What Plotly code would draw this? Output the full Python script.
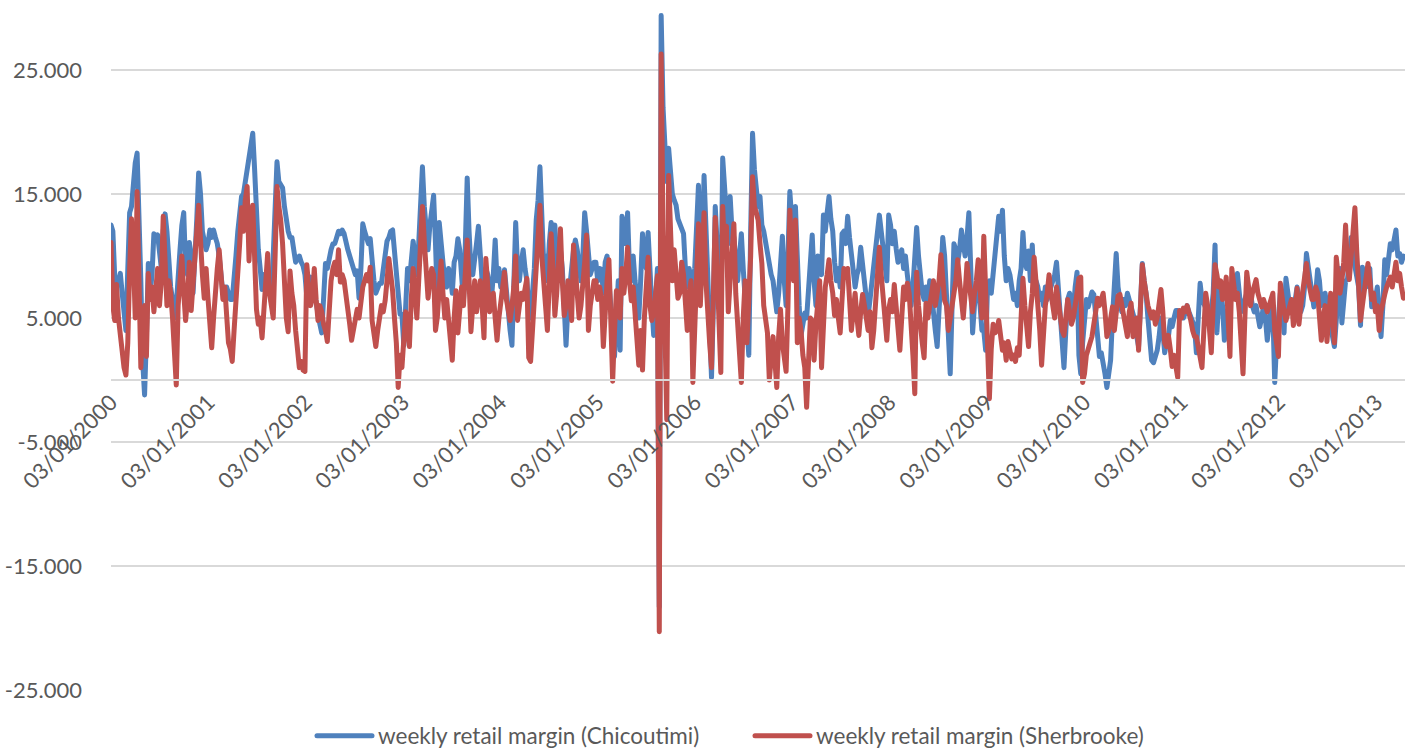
import pandas as pd
import plotly.graph_objects as go

# Weekly retail margins (cents/litre), one list of 52 weeks per year, first week 2000-01-03
chicoutimi_2000 = [12.5, 12.0, 8.3, 7.5, 8.0, 8.6, 7.0, 5.5, 4.0, 8.9, 13.5, 14.0, 16.0,
                   17.5, 18.3, 14.0, 8.0, 1.5, -1.2, 3.5, 9.4, 7.0, 8.5, 11.8, 11.5, 11.7,
                   10.0, 9.0, 12.0, 13.4, 12.0, 9.0, 7.5, 6.5, 5.0, 6.0, 8.9, 10.5, 12.5,
                   13.5, 9.0, 8.5, 11.1, 10.0, 7.0, 9.5, 13.0, 16.7, 15.0, 12.0, 11.3, 10.5]
chicoutimi_2001 = [11.0, 12.1, 11.5, 12.1, 11.5, 11.0, 10.0, 8.0, 7.0, 6.8, 7.5, 7.0, 6.5,
                   6.5, 8.0, 10.0, 12.0, 13.5, 14.8, 15.0, 16.0, 17.0, 17.5, 18.5, 19.9, 17.0,
                   12.3, 10.5, 9.0, 7.3, 8.5, 8.0, 7.0, 7.5, 6.3, 11.0, 15.0, 17.6, 16.0,
                   15.8, 15.5, 14.0, 12.5, 12.0, 11.5, 11.5, 10.5, 9.5, 9.8, 10.0, 9.5, 9.2]
chicoutimi_2002 = [8.5, 6.7, 7.5, 8.3, 8.0, 7.0, 6.0, 5.0, 4.5, 3.8, 7.0, 9.4, 9.0,
                   10.0, 10.5, 11.0, 11.0, 11.5, 12.0, 11.8, 12.1, 11.8, 11.0, 10.5, 10.0, 9.5,
                   9.0, 8.5, 8.8, 6.6, 9.0, 12.6, 12.0, 11.5, 11.0, 11.4, 9.0, 8.0, 7.0,
                   7.5, 7.8, 7.8, 9.0, 10.0, 11.2, 11.5, 12.0, 12.1, 10.0, 8.0, 7.0, 5.3]
chicoutimi_2003 = [5.3, 2.8, 6.0, 9.0, 8.0, 10.0, 11.2, 10.0, 8.5, 11.0, 15.0, 17.2, 14.0,
                   12.0, 10.5, 12.5, 14.0, 14.9, 11.0, 6.3, 12.7, 11.5, 9.5, 8.0, 7.5, 9.0,
                   8.5, 7.0, 9.5, 10.0, 11.4, 10.5, 8.0, 6.3, 11.0, 16.3, 12.0, 9.0, 8.5,
                   9.5, 11.0, 12.4, 10.0, 8.0, 7.5, 9.0, 8.5, 7.0, 6.5, 8.5, 11.3, 8.0]
chicoutimi_2004 = [9.0, 7.5, 8.0, 8.9, 7.0, 5.5, 4.0, 2.8, 7.0, 12.7, 9.0, 8.0, 9.5,
                   10.5, 9.0, 8.0, 6.0, 5.0, 7.0, 9.0, 12.9, 14.5, 17.2, 12.0, 9.5, 10.0,
                   8.0, 11.0, 12.7, 12.0, 12.5, 9.5, 8.0, 10.5, 9.0, 6.0, 2.8, 6.0, 8.0,
                   9.0, 10.5, 11.3, 10.5, 9.0, 8.0, 10.0, 13.5, 12.0, 9.5, 8.5, 9.0, 9.5]
chicoutimi_2005 = [9.5, 8.0, 9.0, 8.9, 7.0, 9.5, 10.0, 8.0, 6.5, 5.0, 1.9, 5.0, 8.0,
                   2.4, 13.2, 12.5, 11.0, 13.5, 9.0, 8.0, 10.0, 8.0, 6.5, 5.0, 8.0, 11.8,
                   10.0, 9.0, 11.9, 8.0, 6.0, 3.6, 6.5, 9.0, -18.3, 29.4, 22.0, 17.5, 16.0,
                   18.7, 16.5, 15.0, 14.5, 14.1, 13.0, 12.5, 12.1, 11.8, 9.0, 7.5, 9.0, 8.0]
chicoutimi_2006 = [7.5, 9.0, 12.0, 15.7, 11.0, 9.5, 16.5, 12.0, 9.0, 5.0, 0.2, 6.0, 14.0,
                   11.0, 8.0, 6.0, 17.9, 15.0, 12.5, 11.0, 14.8, 12.0, 11.5, 9.0, 8.0, 10.0,
                   11.8, 9.0, 6.5, 4.0, 2.0, 12.0, 19.9, 17.0, 15.5, 14.0, 14.8, 12.5, 12.0,
                   11.0, 10.6, 9.0, 8.5, 8.0, 6.5, 5.5, 7.0, 9.0, 11.6, 8.0, 6.0, 10.0]
chicoutimi_2007 = [15.2, 13.0, 11.0, 14.0, 9.0, 6.0, 3.6, 4.5, 5.4, 5.0, 7.0, 9.5, 11.7,
                   8.0, 6.0, 10.0, 9.0, 8.5, 13.3, 12.0, 13.5, 14.8, 13.0, 12.0, 9.5, 8.0,
                   9.0, 7.5, 11.8, 12.0, 11.0, 13.2, 11.5, 10.0, 8.0, 7.5, 8.5, 9.0, 10.7,
                   9.5, 8.0, 7.0, 5.2, 6.5, 8.0, 9.0, 11.0, 12.5, 13.3, 12.0, 10.5, 9.7]
chicoutimi_2008 = [8.0, 13.3, 12.5, 11.0, 12.0, 10.6, 9.5, 10.0, 10.5, 9.0, 10.0, 8.5, 7.0,
                   6.0, 7.5, 9.5, 12.3, 10.0, 8.0, 7.0, 6.5, 7.5, 6.0, 8.0, 7.0, 5.0,
                   4.0, 2.7, 6.0, 9.0, 11.5, 10.0, 7.0, 3.0, 0.5, 6.0, 11.0, 10.5, 9.5,
                   10.5, 12.1, 11.0, 10.0, 11.5, 13.5, 9.0, 3.8, 6.0, 7.0, 8.5, 6.0, 4.0]
chicoutimi_2009 = [4.0, 2.4, 7.5, 8.0, 7.0, 8.5, 9.4, 11.0, 13.2, 12.0, 13.7, 10.0, 8.0,
                   9.0, 8.5, 7.5, 6.5, 7.0, 6.0, 8.0, 9.0, 11.9, 9.5, 9.0, 10.4, 8.0,
                   10.9, 7.5, 8.0, 7.5, 6.5, 7.0, 6.0, 7.5, 6.5, 7.0, 7.5, 8.0, 8.5,
                   9.5, 7.0, 5.0, 2.5, 1.0, 4.0, 6.5, 7.0, 6.0, 5.5, 7.5, 8.7, 2.0]
chicoutimi_2010 = [0.5, 3.0, 5.0, 6.5, 5.9, 6.5, 7.1, 6.9, 5.0, 3.5, 1.9, 2.2, 1.5,
                   0.5, -0.6, 0.8, 1.6, 5.0, 8.5, 10.2, 7.5, 6.0, 5.5, 6.5, 6.0, 7.0,
                   6.5, 6.0, 5.5, 4.8, 3.5, 2.7, 6.0, 9.4, 8.0, 7.0, 5.0, 3.0, 1.6,
                   1.4, 2.0, 2.4, 3.5, 5.0, 4.0, 2.2, 3.0, 3.5, 4.8, 4.3, 5.0, 5.6]
chicoutimi_2011 = [5.6, 5.0, 5.5, 5.0, 5.4, 6.0, 5.5, 5.0, 4.8, 4.3, 2.2, 5.0, 7.8,
                   6.5, 6.0, 5.8, 5.4, 4.5, 5.5, 7.0, 10.9, 3.8, 6.5, 7.5, 6.0, 3.2,
                   5.0, 6.0, 6.5, 7.5, 8.0, 7.5, 8.6, 7.0, 5.5, 6.0, 6.5, 7.0, 6.5,
                   7.0, 6.0, 5.5, 6.0, 5.0, 4.3, 5.0, 6.0, 5.0, 3.2, 4.5, 6.0, 5.5]
chicoutimi_2012 = [-0.2, 3.0, 6.0, 7.0, 6.0, 3.8, 8.2, 7.0, 6.0, 5.5, 6.0, 6.5, 7.5,
                   6.5, 5.5, 6.0, 7.5, 10.2, 9.0, 7.9, 7.0, 5.9, 7.0, 8.9, 8.0, 6.0,
                   6.5, 7.0, 6.0, 5.0, 4.5, 3.5, 2.7, 5.0, 7.0, 9.0, 4.6, 6.0, 8.0,
                   8.1, 9.5, 11.5, 10.0, 9.0, 8.0, 7.5, 4.4, 9.1, 8.0, 7.5, 8.0, 9.0]
chicoutimi_2013 = [5.9, 7.0, 6.5, 7.5, 5.5, 3.5, 6.0, 9.7, 8.5, 9.5, 11.0, 10.5, 11.5,
                   12.1, 10.0, 10.2, 9.5, 10.0]

sherbrooke_2000 = [11.1, 6.0, 4.8, 7.7, 5.0, 3.5, 2.0, 1.0, 0.4, 3.0, 9.0, 13.0, 10.0,
                   5.0, 15.2, 8.0, 1.0, 4.5, 6.0, 1.9, 8.6, 6.5, 7.5, 5.5, 7.0, 9.0,
                   6.0, 8.0, 13.2, 9.5, 6.0, 8.0, 7.0, 5.0, 2.0, -0.4, 6.0, 9.0, 10.0,
                   7.0, 4.8, 6.5, 9.5, 5.6, 7.5, 9.0, 12.0, 14.1, 10.0, 8.5, 6.6, 9.0]
sherbrooke_2001 = [6.6, 4.0, 2.6, 5.0, 8.0, 9.0, 10.5, 8.0, 6.5, 7.5, 5.0, 3.0, 2.5,
                   1.5, 4.0, 7.0, 9.2, 11.0, 13.9, 12.0, 14.5, 15.6, 9.6, 13.0, 14.1, 8.0,
                   5.7, 4.5, 5.0, 3.4, 6.0, 8.5, 10.2, 7.0, 6.0, 5.0, 10.0, 15.6, 14.0,
                   12.9, 11.0, 7.5, 5.0, 3.9, 8.8, 7.0, 6.0, 4.0, 2.5, 1.0, 1.5, 0.8]
sherbrooke_2002 = [0.7, 9.3, 7.5, 6.0, 6.6, 9.0, 6.5, 4.8, 6.0, 5.5, 4.5, 4.0, 3.1,
                   6.0, 8.0, 9.0, 9.5, 8.5, 10.5, 7.9, 8.5, 8.0, 7.0, 5.5, 4.5, 3.2,
                   4.0, 5.0, 5.7, 5.0, 6.5, 7.5, 8.0, 8.5, 8.0, 9.1, 4.8, 3.5, 2.7,
                   4.0, 5.0, 6.0, 5.5, 6.4, 8.0, 9.8, 8.5, 7.2, 5.0, 3.0, -0.6, 2.0]
sherbrooke_2003 = [1.0, 3.0, 5.5, 4.0, 2.7, 6.5, 9.0, 7.0, 5.0, 8.0, 11.0, 14.0, 11.2,
                   9.0, 6.6, 8.0, 9.0, 8.5, 4.0, 5.1, 8.0, 9.6, 7.0, 5.0, 6.5, 5.0,
                   3.5, 1.6, 5.0, 7.2, 3.8, 6.0, 7.5, 6.0, 8.5, 11.3, 8.0, 3.9, 6.0,
                   8.0, 5.5, 6.5, 8.0, 6.0, 3.4, 9.8, 7.0, 5.5, 6.5, 7.0, 5.0, 3.2]
sherbrooke_2004 = [5.0, 6.5, 7.5, 8.7, 6.5, 5.5, 4.8, 6.0, 7.5, 10.0, 4.8, 6.0, 7.0,
                   6.5, 7.5, 8.2, 1.8, 1.5, 4.0, 7.0, 9.9, 12.0, 14.1, 10.0, 7.0, 6.0,
                   4.0, 8.0, 11.8, 9.0, 5.2, 7.0, 9.0, 12.2, 8.0, 5.2, 6.0, 8.0, 6.5,
                   4.8, 10.9, 8.5, 7.0, 5.0, 6.0, 7.5, 9.5, 11.7, 4.0, 6.0, 7.0, 8.0]
sherbrooke_2005 = [8.0, 6.5, 7.5, 6.6, 2.7, 6.0, 8.0, 9.7, 5.0, -0.1, 4.0, 7.2, 6.0,
                   5.0, 9.0, 7.0, 8.5, 10.7, 8.0, 6.4, 7.5, 4.8, 3.0, 1.2, 4.0, 0.8,
                   5.0, 7.0, 9.9, 6.0, 4.8, 5.5, 7.0, 8.4, -20.3, 26.3, 12.0, 5.0, -3.2,
                   16.5, 12.0, 8.0, 10.5, 9.0, 6.6, 7.0, 9.5, 8.5, 6.0, 4.0, 7.0, 8.0]
sherbrooke_2006 = [-0.2, 5.0, 9.0, 12.6, 6.0, 9.0, 13.5, 8.0, 4.5, 3.0, 1.0, 7.0, 13.1,
                   9.0, 4.5, 0.6, 14.0, 10.0, 12.4, 5.5, 8.0, 10.0, 12.6, 7.0, 4.0, 2.0,
                   -0.2, 5.0, 8.0, 3.0, 6.0, 10.0, 16.4, 14.0, 13.5, 12.9, 11.0, 9.4, 6.0,
                   5.0, 3.8, 0.0, 2.0, 3.5, 1.5, -0.6, 3.5, 5.7, 3.0, 1.5, 0.7, 6.0]
sherbrooke_2007 = [13.7, 10.0, 8.0, 12.9, 3.0, 5.0, 4.0, 2.0, 1.0, -2.2, 2.5, 5.0, 4.8,
                   1.6, 4.5, 6.0, 8.0, 1.0, 5.0, 7.5, 8.5, 9.7, 8.0, 7.0, 5.2, 6.5,
                   5.0, 3.8, 6.5, 9.0, 8.5, 9.0, 6.5, 4.0, 5.5, 7.0, 5.0, 3.6, 5.5,
                   6.9, 6.0, 5.0, 4.0, 5.5, 2.6, 4.0, 6.5, 8.0, 10.7, 8.5, 6.2, 5.0]
sherbrooke_2008 = [3.2, 5.7, 6.5, 5.5, 7.7, 6.0, 4.0, 2.4, 5.0, 7.5, 6.5, 7.8, 7.0,
                   5.0, 2.0, -1.1, 8.7, 6.0, 4.0, 3.0, 1.8, 6.2, 5.0, 6.5, 7.0, 8.0,
                   6.0, 7.0, 8.0, 10.1, 8.0, 6.4, 6.0, 4.0, 5.0, 6.5, 7.0, 8.0, 9.7,
                   8.0, 6.0, 5.0, 7.0, 9.4, 8.0, 6.5, 5.5, 7.0, 8.0, 9.7, 7.0, 5.0]
sherbrooke_2009 = [11.6, 7.0, 2.0, -1.5, 2.5, 4.5, 3.8, 4.0, 4.8, 3.5, 2.4, 3.0, 1.6,
                   3.1, 2.5, 1.7, 2.0, 1.5, 2.6, 2.0, 5.0, 8.2, 6.0, 4.5, 2.7, 5.5,
                   7.0, 9.9, 8.0, 6.5, 4.0, 1.2, 4.0, 6.0, 7.0, 8.5, 7.0, 6.0, 5.0,
                   7.5, 6.0, 5.0, 4.0, 3.6, 5.0, 6.5, 5.5, 4.5, 5.0, 6.5, 7.0, 8.2]
sherbrooke_2010 = [8.3, -0.2, 0.5, 2.0, 2.7, 3.0, 3.5, 5.0, 5.5, 6.6, 6.0, 6.5, 7.0,
                   5.5, 3.5, 4.0, 5.4, 5.9, 4.0, 5.5, 6.8, 6.9, 6.0, 5.0, 4.5, 3.5,
                   5.5, 6.2, 3.5, 4.5, 5.0, 2.4, 6.0, 9.3, 8.0, 6.5, 6.0, 5.5, 5.0,
                   5.5, 4.5, 5.0, 6.0, 7.3, 5.5, 3.0, 2.7, 3.6, 2.5, 1.1, 2.0, 1.0]
sherbrooke_2011 = [0.2, 5.6, 5.0, 5.8, 5.5, 6.0, 5.5, 4.8, 4.0, 3.5, 3.5, 2.5, 2.0,
                   1.0, 4.0, 7.0, 6.0, 4.0, 2.2, 6.0, 9.3, 8.5, 7.5, 8.0, 6.5, 7.0,
                   8.3, 5.0, 1.9, 9.0, 8.0, 6.5, 7.0, 5.5, 3.0, 0.5, 5.0, 8.7, 7.5,
                   6.0, 7.0, 7.5, 8.1, 7.0, 6.5, 5.9, 6.5, 6.0, 5.5, 6.0, 6.5, 7.0]
sherbrooke_2012 = [4.0, 3.0, 1.9, 7.8, 6.1, 5.5, 4.8, 5.5, 6.0, 6.5, 4.4, 5.5, 7.4,
                   4.5, 6.0, 7.0, 8.0, 9.4, 8.0, 7.0, 6.5, 6.5, 7.5, 7.0, 5.5, 3.2,
                   5.0, 6.0, 3.1, 5.0, 7.0, 5.0, 3.0, 9.9, 8.5, 7.0, 8.0, 9.5, 12.5,
                   9.0, 8.1, 10.0, 12.0, 13.9, 10.3, 7.0, 4.8, 6.0, 7.2, 8.0, 9.4, 8.0]
sherbrooke_2013 = [6.5, 7.0, 5.5, 6.0, 4.0, 5.5, 6.5, 6.9, 7.5, 8.0, 8.3, 7.5, 8.5,
                   9.5, 8.0, 8.6, 7.5, 6.6]

chicoutimi = (chicoutimi_2000 + chicoutimi_2001 + chicoutimi_2002 + chicoutimi_2003
              + chicoutimi_2004 + chicoutimi_2005 + chicoutimi_2006 + chicoutimi_2007
              + chicoutimi_2008 + chicoutimi_2009 + chicoutimi_2010 + chicoutimi_2011
              + chicoutimi_2012 + chicoutimi_2013)
sherbrooke = (sherbrooke_2000 + sherbrooke_2001 + sherbrooke_2002 + sherbrooke_2003
              + sherbrooke_2004 + sherbrooke_2005 + sherbrooke_2006 + sherbrooke_2007
              + sherbrooke_2008 + sherbrooke_2009 + sherbrooke_2010 + sherbrooke_2011
              + sherbrooke_2012 + sherbrooke_2013)

weeks = pd.date_range("2000-01-03", periods=len(chicoutimi), freq="7D")

# Axis labels
tick_years = list(range(2000, 2014))
x_tick_dates = [f"{y}-01-03" for y in tick_years]
x_tick_text = [f"03/01/{y}" for y in tick_years]
y_tick_vals = [-25, -15, -5, 5, 15, 25]
y_tick_text = ["-25.000", "-15.000", "-5.000", "5.000", "15.000", "25.000"]

Y_MIN, Y_MAX = -25, 30.65
FONT = "Lato, 'Open Sans', sans-serif"
GREY_TEXT = "#595959"
GRID = "#d9d9d9"
LEGEND_SYMBOL = 55

fig = go.Figure()
fig.add_trace(go.Scatter(
    x=weeks, y=chicoutimi, mode="lines",
    name="weekly retail margin (Chicoutimi)",
    line=dict(color="#4f81bd", width=5),
))
fig.add_trace(go.Scatter(
    x=weeks, y=sherbrooke, mode="lines",
    name="weekly retail margin (Sherbrooke)",
    line=dict(color="#c0504d", width=5),
))

fig.update_layout(
    width=1405, height=750,
    margin=dict(l=111, r=0, t=0, b=60, autoexpand=False),
    paper_bgcolor="white", plot_bgcolor="white",
    font=dict(family=FONT, color=GREY_TEXT),
    showlegend=True,
    legend=dict(
        orientation="h",
        xref="container", yref="container",
        x=313 / 1405, xanchor="left",
        y=1 - 736 / 750, yanchor="middle",
        font=dict(family=FONT, size=22.5, color=GREY_TEXT),
        itemwidth=LEGEND_SYMBOL,
        entrywidth=368,
        bgcolor="rgba(0,0,0,0)",
    ),
    xaxis=dict(
        type="date",
        range=["2000-01-03", "2013-04-21"],
        anchor="free",
        position=(0 - Y_MIN) / (Y_MAX - Y_MIN),
        tickmode="array",
        tickvals=x_tick_dates,
        ticktext=x_tick_text,
        tickangle=-45,
        tickfont=dict(family=FONT, size=22, color=GREY_TEXT),
        showgrid=False,
        zeroline=False,
        showline=True,
        linecolor=GRID,
        linewidth=1.5,
        ticks="",
    ),
    yaxis=dict(
        range=[Y_MIN, Y_MAX],
        tickmode="array",
        tickvals=y_tick_vals,
        ticktext=y_tick_text,
        tickfont=dict(family=FONT, size=22, color=GREY_TEXT),
        showgrid=True,
        gridcolor=GRID,
        gridwidth=1.5,
        zeroline=False,
        showline=False,
        ticks="",
        ticklabelstandoff=28,
    ),
)

# Round line joins on the series, and legend line samples spanning the symbol width
styling = (
    "document.querySelectorAll('.scatterlayer .js-line').forEach(function(p){"
    "p.style.strokeLinejoin='round';p.style.strokeLinecap='round';});"
    "document.querySelectorAll('.legend .legendlines path').forEach(function(p){"
    "p.setAttribute('d','M4,0h" + str(LEGEND_SYMBOL) + "');"
    "p.style.strokeLinecap='round';});"
)
fig.write_html("out.html", post_script=styling)
